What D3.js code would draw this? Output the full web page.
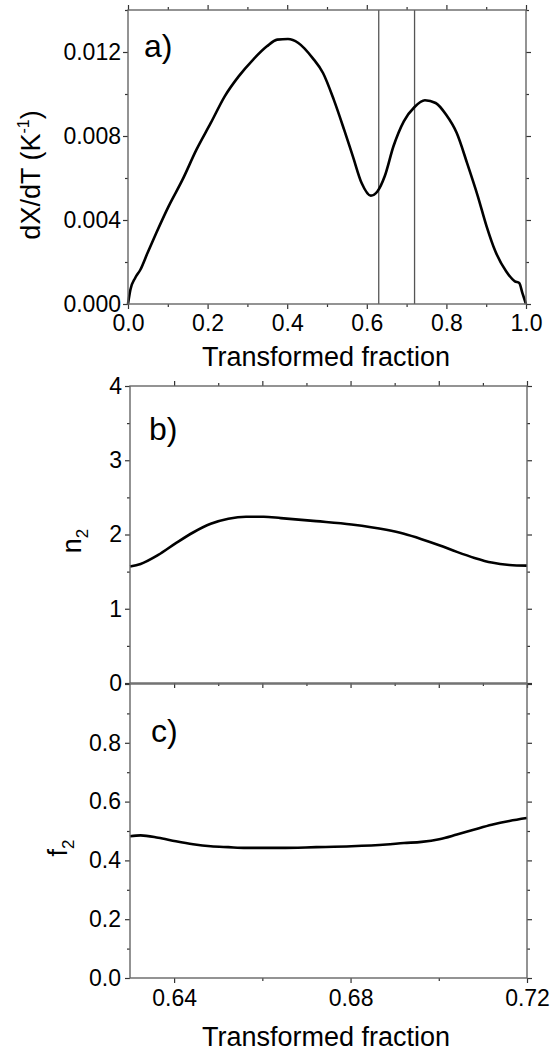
<!DOCTYPE html>
<html>
<head>
<meta charset="utf-8">
<script src="https://cdn.jsdelivr.net/npm/d3@7"></script>
<style>
  body { margin: 0; background: #fff; }
  svg { font-family: "Liberation Sans", Arial, sans-serif; }
  .tick text { font-size: 23px; fill: #000; }
  .tick line { stroke: #333; stroke-width: 1.2; }
</style>
</head>
<body>
<svg width="551" height="1053"></svg>
<script>
// panel a: transformation rate vs transformed fraction
const fracA = [0, 0.006, 0.018, 0.031, 0.049, 0.071, 0.102, 0.137, 0.172, 0.208, 0.243, 0.278,
  0.314, 0.349, 0.375, 0.402, 0.428, 0.464, 0.490, 0.517, 0.543, 0.565, 0.587, 0.610, 0.627,
  0.645, 0.667, 0.693, 0.720, 0.746, 0.773, 0.799, 0.826, 0.852, 0.879, 0.901, 0.923, 0.950,
  0.972, 0.983, 0.991, 1.0];
const rateA = [0, 0.00068, 0.00124, 0.00163, 0.00243, 0.00338, 0.00465, 0.00592, 0.00735, 0.00862,
  0.00989, 0.01084, 0.01163, 0.01227, 0.01259, 0.01262, 0.01243, 0.01171, 0.0110, 0.00973, 0.0083,
  0.00703, 0.00576, 0.00516, 0.00537, 0.00608, 0.00751, 0.0087, 0.00938, 0.0097, 0.00957, 0.00902,
  0.00814, 0.00671, 0.00513, 0.0037, 0.00251, 0.00156, 0.00108, 0.001, 0.00052, 0];
const markerLines = [0.63, 0.72];

// panels b and c: zoom on the 0.63 - 0.72 range
const fracZoom = [0.63, 0.6324, 0.6364, 0.6404, 0.6443, 0.6483, 0.6523, 0.6563, 0.6603, 0.6642,
  0.6722, 0.6802, 0.6881, 0.6921, 0.6961, 0.7001, 0.7041, 0.7081, 0.712, 0.716, 0.72];
const n2 = [1.568, 1.604, 1.725, 1.883, 2.027, 2.144, 2.212, 2.239, 2.239, 2.221,
  2.180, 2.135, 2.063, 2.009, 1.937, 1.856, 1.766, 1.685, 1.622, 1.590, 1.581];
const f2 = [0.482, 0.485, 0.477, 0.465, 0.455, 0.448, 0.445, 0.4425, 0.4425, 0.4425,
  0.445, 0.448, 0.454, 0.459, 0.463, 0.472, 0.488, 0.505, 0.521, 0.534, 0.544];

const svg = d3.select('svg');

const axisTitle = 'Transformed fraction';

const drawPanel = (p) => {
  const w = p.right - p.left;
  const h = p.bottom - p.top;
  const g = svg.append('g').attr('transform', `translate(${p.left},${p.top})`);

  const xScale = d3.scaleLinear().domain(p.xDomain).range([0, w]);
  const yScale = d3.scaleLinear().domain(p.yDomain).range([h, 0]);

  // bottom + top ticks
  g.append('g').attr('transform', `translate(0,${h})`)
    .call(d3.axisBottom(xScale).tickValues(p.xMajor).tickSize(5).tickPadding(p.xPad)
      .tickFormat(p.xLabels ? p.xFmt : ''));
  g.append('g').attr('transform', `translate(0,${h})`)
    .call(d3.axisBottom(xScale).tickValues(p.xMinor).tickSize(3).tickFormat(''));
  g.append('g').call(d3.axisTop(xScale).tickValues(p.xTopMajor || p.xMajor).tickSize(5).tickFormat(''));
  g.append('g').call(d3.axisTop(xScale).tickValues(p.xTopMinor || p.xMinor).tickSize(3).tickFormat(''));

  // left + right ticks
  g.append('g')
    .call(d3.axisLeft(yScale).tickValues(p.yMajor).tickSize(5).tickPadding(p.yPad)
      .tickFormat(d => (p.yHide && p.yHide.includes(d)) ? '' : p.yFmt(d)));
  g.append('g').call(d3.axisLeft(yScale).tickValues(p.yMinor).tickSize(3).tickFormat(''));
  g.append('g').attr('transform', `translate(${w},0)`)
    .call(d3.axisRight(yScale).tickValues(p.yMajor).tickSize(5).tickFormat(''));
  g.append('g').attr('transform', `translate(${w},0)`)
    .call(d3.axisRight(yScale).tickValues(p.yMinor).tickSize(3).tickFormat(''));

  g.selectAll('.domain').remove();

  if (p.markers) {
    g.selectAll('.marker-line').data(p.markers).enter().append('line')
      .attr('class', 'marker-line')
      .attr('x1', d => xScale(d)).attr('x2', d => xScale(d))
      .attr('y1', 0).attr('y2', h)
      .attr('stroke', '#555').attr('stroke-width', 1.3);
  }

  const lineGenerator = d3.line()
    .x(d => xScale(d[0]))
    .y(d => yScale(d[1]))
    .curve(d3.curveMonotoneX);

  g.append('path')
    .attr('d', lineGenerator(d3.zip(p.xs, p.ys)))
    .attr('fill', 'none')
    .attr('stroke', '#000')
    .attr('stroke-width', 2.6)
    .attr('stroke-linejoin', 'round');

  // frame
  g.append('rect')
    .attr('width', w).attr('height', h)
    .attr('fill', 'none')
    .attr('stroke', '#666')
    .attr('stroke-width', 1.4);

  g.append('text')
    .attr('x', p.tag[0]).attr('y', p.tag[1])
    .attr('font-size', 32)
    .text(p.tag[2]);

  return g;
};

drawPanel({
  left: 128, right: 526, top: 10, bottom: 304,
  xDomain: [0, 1], yDomain: [0, 0.014],
  xMajor: [0, 0.2, 0.4, 0.6, 0.8, 1.0], xMinor: [0.1, 0.3, 0.5, 0.7, 0.9],
  xLabels: true, xFmt: d3.format('.1f'), xPad: 6,
  yMajor: [0, 0.004, 0.008, 0.012], yMinor: [0.002, 0.006, 0.010, 0.014],
  yFmt: d3.format('.3f'), yPad: 2,
  markers: markerLines,
  xs: fracA, ys: rateA,
  tag: [16, 47, 'a)']
});

drawPanel({
  left: 130, right: 527, top: 386, bottom: 683,
  xDomain: [0.63, 0.72], yDomain: [0, 4],
  xMajor: [0.64, 0.66, 0.68, 0.70, 0.72], xMinor: [0.65, 0.67, 0.69, 0.71],
  xLabels: false, xPad: 6,
  yMajor: [0, 1, 2, 3, 4], yMinor: [0.5, 1.5, 2.5, 3.5],
  yFmt: d3.format('d'), yPad: 3,
  xs: fracZoom, ys: n2,
  tag: [19, 54, 'b)']
});

drawPanel({
  left: 130, right: 527, top: 684, bottom: 978,
  xDomain: [0.63, 0.72], yDomain: [0, 1],
  xMajor: [0.64, 0.68, 0.72], xMinor: [0.66, 0.70],
  xTopMajor: [], xTopMinor: [],
  xLabels: true, xFmt: d3.format('.2f'), xPad: 7,
  yMajor: [0, 0.2, 0.4, 0.6, 0.8, 1.0], yMinor: [0.1, 0.3, 0.5, 0.7, 0.9],
  yHide: [1.0],
  yFmt: d3.format('.1f'), yPad: 4,
  xs: fracZoom, ys: f2,
  tag: [21, 58, 'c)']
});

// axis titles
svg.append('text')
  .attr('x', 326).attr('y', 366)
  .attr('text-anchor', 'middle').attr('font-size', 27)
  .text(axisTitle);

svg.append('text')
  .attr('x', 326).attr('y', 1046)
  .attr('text-anchor', 'middle').attr('font-size', 27)
  .text(axisTitle);

const yTitleA = svg.append('text')
  .attr('transform', 'translate(40,175) rotate(-90)')
  .attr('text-anchor', 'middle').attr('font-size', 27);
yTitleA.append('tspan').text('dX/dT (K');
yTitleA.append('tspan').attr('font-size', 16).attr('dy', -11).text('-1');
yTitleA.append('tspan').attr('dy', 11).text(')');

const yTitleB = svg.append('text')
  .attr('transform', 'translate(81,541) rotate(-90)')
  .attr('text-anchor', 'middle').attr('font-size', 27);
yTitleB.append('tspan').text('n');
yTitleB.append('tspan').attr('font-size', 17).attr('dy', 7).text('2');

const yTitleC = svg.append('text')
  .attr('transform', 'translate(67,848) rotate(-90)')
  .attr('text-anchor', 'middle').attr('font-size', 27);
yTitleC.append('tspan').text('f');
yTitleC.append('tspan').attr('font-size', 17).attr('dy', 7).text('2');
</script>
</body>
</html>
